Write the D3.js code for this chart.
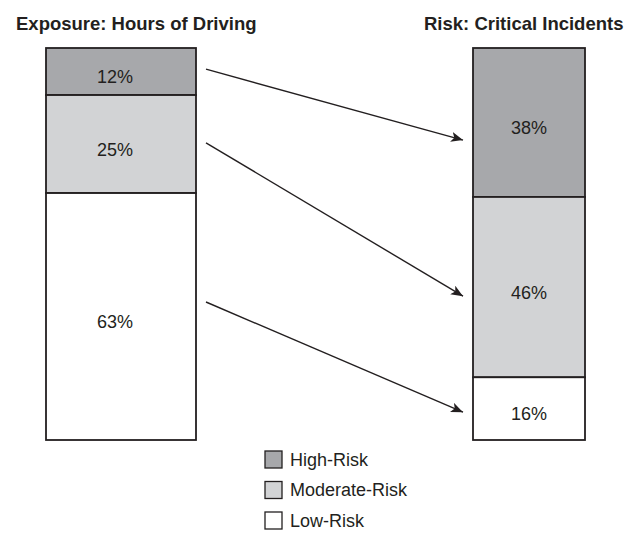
<!DOCTYPE html>
<html>
<head>
<meta charset="utf-8">
<script src="https://cdn.jsdelivr.net/npm/d3@7"></script>
<style>
  html, body { margin: 0; padding: 0; background: #fff; }
  svg { display: block; }
</style>
</head>
<body>
<script>
// ---- data ----
const categories = ["High-Risk", "Moderate-Risk", "Low-Risk"];
const exposureValues = [12, 25, 63];   // Exposure: Hours of Driving
const riskValues = [38, 46, 16];        // Risk: Critical Incidents
const barTitles = ["Exposure: Hours of Driving", "Risk: Critical Incidents"];
// arrows: start (cumulative % on left bar) -> end (cumulative % on right bar)
const arrowFrom = [5.4, 24.2, 64.8];
const arrowTo = [23.5, 63.3, 92.9];

const colors = { "High-Risk": "#a7a8ab", "Moderate-Risk": "#d2d3d5", "Low-Risk": "#ffffff" };
const ink = "#231f20";

const W = 635, H = 533;
const svg = d3.select("body").append("svg").attr("width", W).attr("height", H);

const defs = svg.append("defs");
defs.append("marker")
  .attr("id", "arrowhead")
  .attr("viewBox", "0 0 12 10")
  .attr("refX", 12).attr("refY", 5)
  .attr("markerWidth", 12).attr("markerHeight", 10)
  .attr("markerUnits", "userSpaceOnUse")
  .attr("orient", "auto")
  .append("path")
  .attr("d", "M0,0 L12,5 L0,10 L3,5 Z")
  .attr("fill", ink);

const y = d3.scaleLinear().domain([0, 100]).range([48, 440]);

const bars = [
  { title: barTitles[0], values: exposureValues, x0: 46, x1: 196, labelShift: -6, titleX: 16 },
  { title: barTitles[1], values: riskValues, x0: 473, x1: 585, labelShift: 0, titleX: 424 }
];

bars.forEach(b => {
  let cum = 0;
  const segs = b.values.map((v, i) => {
    const s = { cat: categories[i], v, start: cum, end: cum + v };
    cum += v;
    return s;
  });
  const g = svg.append("g");
  g.selectAll("rect").data(segs).join("rect")
    .attr("x", b.x0)
    .attr("y", d => y(d.start))
    .attr("width", b.x1 - b.x0)
    .attr("height", d => y(d.end) - y(d.start))
    .attr("fill", d => colors[d.cat])
    .attr("stroke", ink)
    .attr("stroke-width", 1.8);
  g.selectAll("text").data(segs).join("text")
    .attr("x", (b.x0 + b.x1) / 2 + b.labelShift)
    .attr("y", d => (y(d.start) + y(d.end)) / 2 + 11.5)
    .attr("text-anchor", "middle")
    .attr("font-family", "'Liberation Sans', Arial, sans-serif")
    .attr("font-size", 18)
    .attr("fill", ink)
    .text(d => d.v + "%");
  svg.append("text")
    .attr("x", b.titleX)
    .attr("y", 30)
    .attr("font-family", "'Liberation Sans', Arial, sans-serif")
    .attr("font-weight", "bold")
    .attr("font-size", 18.5)
    .attr("fill", ink)
    .text(b.title);
});

// arrows
svg.append("g").selectAll("line")
  .data(arrowFrom.map((f, i) => ({ f, t: arrowTo[i] })))
  .join("line")
  .attr("x1", 206)
  .attr("y1", d => y(d.f))
  .attr("x2", 463)
  .attr("y2", d => y(d.t))
  .attr("stroke", ink)
  .attr("stroke-width", 1.4)
  .attr("marker-end", "url(#arrowhead)");

// legend
const leg = svg.append("g").attr("transform", "translate(265,451)");
const items = leg.selectAll("g").data(categories).join("g")
  .attr("transform", (d, i) => `translate(0,${i * 30.5})`);
items.append("rect")
  .attr("width", 17).attr("height", 17)
  .attr("fill", d => colors[d])
  .attr("stroke", ink)
  .attr("stroke-width", 1.3);
items.append("text")
  .attr("x", 25)
  .attr("y", 14.5)
  .attr("font-family", "'Liberation Sans', Arial, sans-serif")
  .attr("font-size", 18)
  .attr("fill", ink)
  .text(d => d);
</script>
</body>
</html>
